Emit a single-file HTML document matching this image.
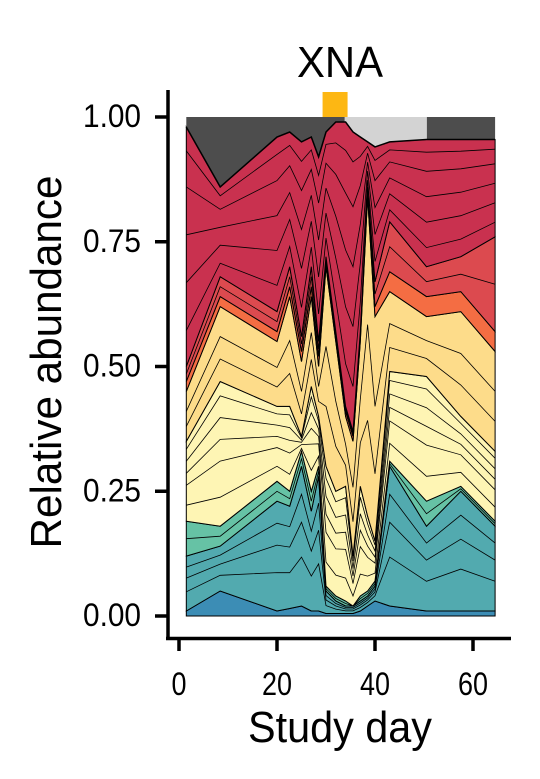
<!DOCTYPE html>
<html><head><meta charset="utf-8"><style>
body{margin:0;background:#fff}
svg{display:block;font-family:"Liberation Sans",Arial,sans-serif}
</style></head><body>
<svg id="chart" width="540" height="779" viewBox="0 0 540 779">
<rect width="540" height="779" fill="#fff"/>
<g id="areas"></g>
<g id="axes"></g>
<text x="340" y="77" font-size="44" style="font-size:44px" textLength="86" lengthAdjust="spacingAndGlyphs" text-anchor="middle">XNA</text>
<text x="340" y="742" font-size="44" style="font-size:44px" textLength="184" lengthAdjust="spacingAndGlyphs" text-anchor="middle">Study day</text>
<text transform="translate(61,362) rotate(-90)" font-size="44" style="font-size:44px" textLength="373" lengthAdjust="spacingAndGlyphs" text-anchor="middle">Relative abundance</text>
</svg>
<script>
const days = [1.5,8.4,20,22.6,25,27,28.5,30,32,34,35.5,37,38.5,40,43,50.5,57.5,64.5];
const blue = [0.01,0.05,0.01,0.015,0.02,0.01,0.01,0.005,0.005,0.005,0.005,0.01,0.02,0.03,0.02,0.01,0.01,0.01];
const teal = [0.11,0.09,0.22,0.205,0.28,0.20,0.27,0.045,0.025,0.015,0.015,0.02,0.02,0.03,0.28,0.17,0.24,0.17];
const green = [0.07,0.04,0.04,0.03,0.03,0.04,0.02,0.01,0.01,0.01,0.0,0.01,0.01,0.01,0.01,0.05,0.01,0.01];
const paleYellow = [0.16,0.29,0.15,0.17,0.03,0.21,0.10,0.24,0.21,0.23,0.10,0.22,0.15,0.08,0.18,0.25,0.14,0.14];
const tan = [0.10,0.15,0.13,0.22,0.15,0.18,0.10,0.40,0.30,0.14,0.23,0.29,0.64,0.45,0.16,0.12,0.21,0.20];
const orange = [0.02,0.02,0.02,0.02,0.02,0.02,0.02,0.01,0.01,0.01,0.01,0.01,0.01,0.02,0.04,0.04,0.04,0.04];
const lightRed = [0.03,0.04,0.04,0.04,0.03,0.04,0.03,0.01,0.01,0.01,0.01,0.01,0.01,0.05,0.10,0.06,0.07,0.19];
const crimson = [0.48,0.18,0.35,0.27,0.39,0.26,0.37,0.25,0.42,0.57,0.60,0.39,0.09,0.27,0.16,0.255,0.235,0.195];
const gray = [0.02,0.14,0.04,0.03,0.05,0.04,0.08,0.03,0.01,0.01,0.03,0.04,0.05,0.06,0.05,0.045,0.045,0.045];
const lightGrayStart = 33.8;
const lightGrayEnd = 50.6;
const yTicks = [0,0.25,0.5,0.75,1];
const yTickLabels = ["0.00","0.25","0.50","0.75","1.00"];
const xTicks = [0,20,40,60];

const layers = [
 {name:'blue',v:blue,c:'#3C8DB5',sub:[]},
 {name:'teal',v:teal,c:'#52AAAF',sub:[0.35,0.6,0.8]},
 {name:'green',v:green,c:'#66C2A5',sub:[0.5]},
 {name:'pale-yellow',v:paleYellow,c:'#FEF5B4',sub:[0.2,0.45,0.6,0.75,0.9]},
 {name:'tan',v:tan,c:'#FDDC8A',sub:[0.3,0.6]},
 {name:'orange',v:orange,c:'#F46D43',sub:[]},
 {name:'light-red',v:lightRed,c:'#DC4A4F',sub:[0.5]},
 {name:'crimson',v:crimson,c:'#C9314F',sub:[0.15,0.35,0.55,0.75,0.9]},
 {name:'dark-gray',v:gray,c:'#4D4D4D',sub:[]}
];
const xS = d => 179 + 4.9*d;
const yS = v => 616 - 499*v;
const NS='http://www.w3.org/2000/svg';
const g = document.getElementById('areas');
let base = days.map(()=>0);
let crimsonTop = null;
layers.forEach(L=>{
  const top = base.map((b,i)=>b+L.v[i]);
  const pts = days.map((d,i)=>xS(d).toFixed(1)+','+yS(top[i]).toFixed(1));
  const bpts = days.map((d,i)=>xS(d).toFixed(1)+','+yS(base[i]).toFixed(1)).reverse();
  const p = document.createElementNS(NS,'polygon');
  p.setAttribute('points', pts.concat(bpts).join(' '));
  p.setAttribute('fill', L.c);
  p.setAttribute('stroke', L.name==='dark-gray' ? 'none' : '#000');
  p.setAttribute('stroke-width','1');
  
  
  g.appendChild(p);
  L.sub.forEach(f=>{
    const pl = document.createElementNS(NS,'polyline');
    pl.setAttribute('points', days.map((d,i)=>xS(d).toFixed(1)+','+yS(base[i]+f*L.v[i]).toFixed(1)).join(' '));
    pl.setAttribute('fill','none');
    pl.setAttribute('stroke','#000');
    pl.setAttribute('stroke-width','0.8');
    
    
    g.appendChild(pl);
  });
  if(L.name==='crimson') crimsonTop = top.slice();
  base = top;
});
function interp(d){
  for(let i=0;i<days.length-1;i++){
    if(d>=days[i]&&d<=days[i+1]){const t=(d-days[i])/(days[i+1]-days[i]);return crimsonTop[i]+t*(crimsonTop[i+1]-crimsonTop[i]);}
  }
  return crimsonTop[crimsonTop.length-1];
}
const lgPts=[[lightGrayStart,1]];
lgPts.push([lightGrayEnd,1]);
lgPts.push([lightGrayEnd,interp(lightGrayEnd)]);
days.forEach((d,i)=>{ if(d<lightGrayEnd && d>lightGrayStart) lgPts.splice(3,0,[d,crimsonTop[i]]); });
lgPts.push([lightGrayStart,interp(lightGrayStart)]);
const lg=document.createElementNS(NS,'polygon');
lg.setAttribute('points', lgPts.map(p=>xS(p[0]).toFixed(1)+','+yS(p[1]).toFixed(1)).join(' '));
lg.setAttribute('fill','#D3D3D3');


g.appendChild(lg);
const ct=document.createElementNS(NS,'polyline');
ct.setAttribute('points', days.map((d,i)=>xS(d).toFixed(1)+','+yS(crimsonTop[i]).toFixed(1)).join(' '));
ct.setAttribute('fill','none');ct.setAttribute('stroke','#000');ct.setAttribute('stroke-width','1.5');


g.appendChild(ct);

const marker = document.createElementNS(NS,'rect');
marker.setAttribute('x',xS(29.3)); marker.setAttribute('y',92);
marker.setAttribute('width',25); marker.setAttribute('height',25);
marker.setAttribute('fill','#FDB713');


g.appendChild(marker);

const ax = document.getElementById('axes');
function line(x1,y1,x2,y2,w,name){
  const l=document.createElementNS(NS,'line');
  l.setAttribute('x1',x1);l.setAttribute('y1',y1);l.setAttribute('x2',x2);l.setAttribute('y2',y2);
  l.setAttribute('stroke','#000');l.setAttribute('stroke-width',w);
  
  
  ax.appendChild(l);
}
line(168,90,168,640,3.5,'y-axis-line');
line(166,638.5,511,638.5,3.5,'x-axis-line');
yTicks.forEach((t,i)=>{
  line(155,yS(t),168,yS(t),3.5,'y-tick');
  const tx=document.createElementNS(NS,'text');
  tx.setAttribute('x',141);tx.setAttribute('y',yS(t)+10);
  tx.setAttribute('font-size','32');
  tx.setAttribute('style','font-size:32px');tx.setAttribute('text-anchor','end');
  tx.setAttribute('textLength','58');tx.setAttribute('lengthAdjust','spacingAndGlyphs');
  tx.textContent=yTickLabels[i];
  
  
  ax.appendChild(tx);
});
xTicks.forEach(t=>{
  line(xS(t),638,xS(t),651,3.5,'x-tick');
  const tx=document.createElementNS(NS,'text');
  tx.setAttribute('x',xS(t));tx.setAttribute('y',695);
  tx.setAttribute('font-size','32');
  tx.setAttribute('style','font-size:32px');tx.setAttribute('text-anchor','middle');
  tx.setAttribute('textLength', String(t).length*15);tx.setAttribute('lengthAdjust','spacingAndGlyphs');
  tx.textContent=String(t);
  
  
  ax.appendChild(tx);
});
</script>
</body></html>
